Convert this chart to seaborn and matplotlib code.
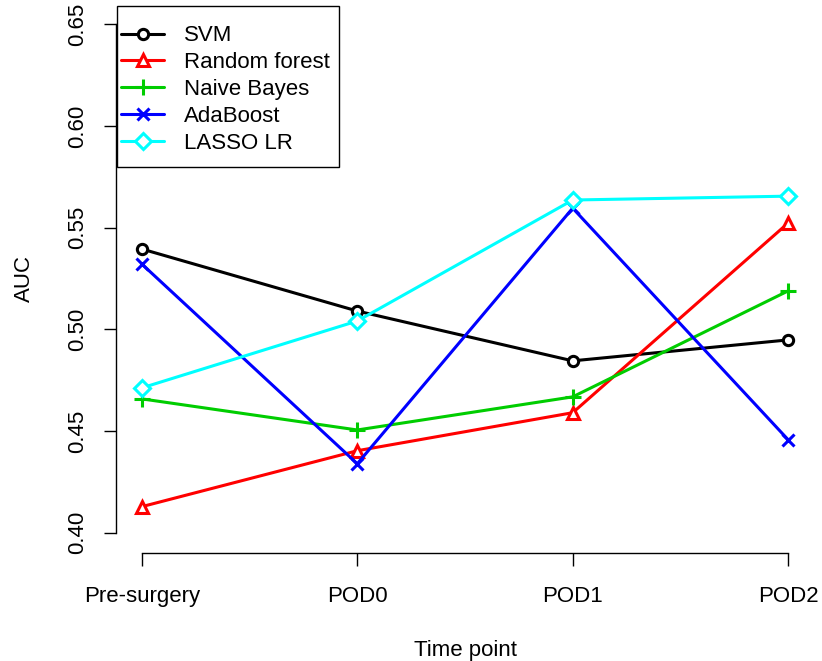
import matplotlib
matplotlib.use("Agg")
import matplotlib.pyplot as plt
from matplotlib.patches import Rectangle
import seaborn as sns
import pandas as pd

time_points = ["Pre-surgery", "POD0", "POD1", "POD2"]
svm = [0.5395, 0.5090, 0.4845, 0.4948]
random_forest = [0.4128, 0.4403, 0.4590, 0.5523]
naive_bayes = [0.4658, 0.4505, 0.4668, 0.5189]
adaboost = [0.5321, 0.4339, 0.5596, 0.4457]
lasso_lr = [0.4712, 0.5041, 0.5636, 0.5655]

models = ["SVM", "Random forest", "Naive Bayes", "AdaBoost", "LASSO LR"]
series = [svm, random_forest, naive_bayes, adaboost, lasso_lr]
colors = ["black", "#FF0000", "#00CD00", "#0000FF", "#00FFFF"]
markers = ["o", "^", "+", "x", "D"]
msizes = [7.4, 8.8, 12, 9, 7.8]

sns.set_style("white")
plt.rcParams["font.family"] = ["Liberation Sans", "DejaVu Sans"]
for k in ["text.color", "axes.labelcolor", "xtick.color", "ytick.color"]:
    plt.rcParams[k] = "black"

FS = 16
W, H = 822, 661

fig = plt.figure(figsize=(W / 100, H / 100), dpi=100)
ax = fig.add_axes([116 / W, (H - 553) / H, (814 - 116) / W, (553 - 4) / H])

for name, vals, col, mk, ms in zip(models, series, colors, markers, msizes):
    df = pd.DataFrame({"x": range(1, len(time_points) + 1), "AUC": vals})
    sns.lineplot(data=df, x="x", y="AUC", ax=ax, color=col, marker=mk, label=name,
                 linewidth=2.2, markersize=ms)

for line, col in zip(ax.lines, colors):
    line.set_markeredgecolor(col)
    line.set_markerfacecolor("white")
    line.set_markeredgewidth(2.2)

ax.set_xlim(0.88, 4.12)
ax.set_ylim(0.39, 0.66)
ax.set_xticks(range(1, 5))
ax.set_xticklabels(time_points)
ax.set_yticks([0.40, 0.45, 0.50, 0.55, 0.60, 0.65])
ax.set_yticklabels(["0.40", "0.45", "0.50", "0.55", "0.60", "0.65"], rotation=90, va="center")
ax.tick_params(axis="both", which="both", direction="out", length=9, width=1.0,
               labelsize=FS, color="black", left=True, bottom=True)
ax.tick_params(axis="x", pad=14.7)
ax.tick_params(axis="y", pad=11.1)
ax.spines["top"].set_visible(False)
ax.spines["right"].set_visible(False)
for s in ["left", "bottom"]:
    ax.spines[s].set_color("black")
    ax.spines[s].set_linewidth(1.0)
ax.spines["left"].set_bounds(0.40, 0.65)
ax.spines["bottom"].set_bounds(1, 4)
ax.set_xlabel("Time point", fontsize=FS, labelpad=23.5)
ax.set_ylabel("AUC", fontsize=FS, labelpad=23)
ax.grid(False)

# legend (R style: small side padding, roomy top/bottom padding)
handles, labels = ax.get_legend_handles_labels()
anchor = ax.transAxes.inverted().transform((117, H - 21))
leg = ax.legend(handles, labels, loc="upper left", bbox_to_anchor=tuple(anchor), frameon=False,
                fontsize=FS, borderaxespad=0, handlelength=1.9, handletextpad=0.9,
                labelspacing=0.26, borderpad=0.2)
leg.set_zorder(5)

fig.canvas.draw()
bb = leg.get_window_extent(fig.canvas.get_renderer())
x0, y0 = bb.x0, bb.y0 - 9
x1, y1 = bb.x1 + 5, bb.y1 + 15
(ax0, ay0) = ax.transAxes.inverted().transform((x0, y0))
(ax1, ay1) = ax.transAxes.inverted().transform((x1, y1))
frame = Rectangle((ax0, ay0), ax1 - ax0, ay1 - ay0, transform=ax.transAxes,
                  facecolor="white", edgecolor="black", linewidth=1.0, zorder=4.9, clip_on=False)
ax.add_patch(frame)

fig.savefig("out.png", dpi=100)
